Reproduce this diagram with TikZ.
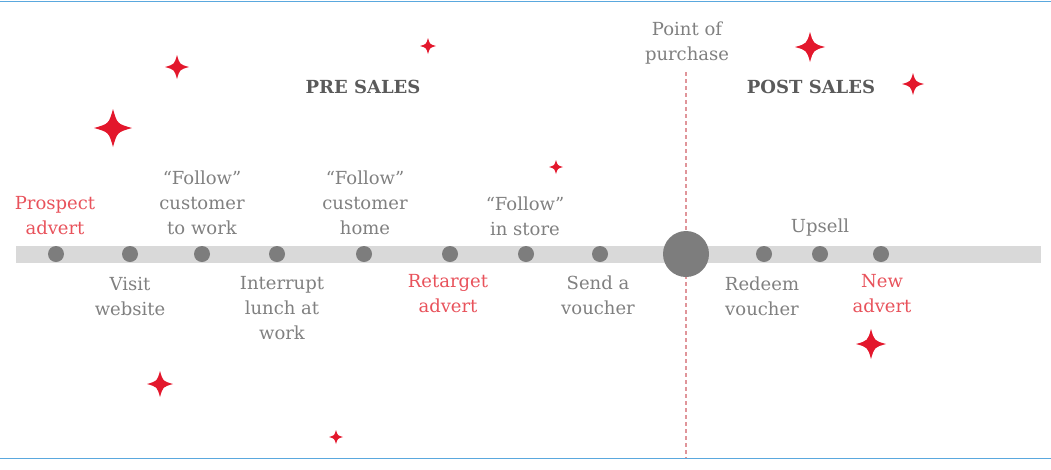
\documentclass[tikz,border=0pt]{standalone}
\usepackage{fontspec}
\setmainfont{DejaVu Serif}
\usetikzlibrary{positioning}
\definecolor{txtgray}{HTML}{808080}
\definecolor{headgray}{HTML}{5A5A5A}
\definecolor{advred}{HTML}{E8525B}
\definecolor{starred}{HTML}{E3172C}
\definecolor{dotgray}{HTML}{7D7D7D}
\definecolor{bargray}{HTML}{D9D9D9}
\definecolor{linepink}{HTML}{E0959A}
\definecolor{frameblue}{HTML}{5AA8DE}
\begin{document}
\begin{tikzpicture}[x=1pt,y=-1pt,
    dot/.style={circle,fill=dotgray,inner sep=0pt,minimum size=16pt},
    big dot/.style={circle,fill=dotgray,inner sep=0pt,minimum size=46pt},
    label node/.style={align=center,text=txtgray,inner sep=0pt,font=\fontsize{18}{25}\selectfont},
    red label/.style={label node,text=advred},
    head node/.style={inner sep=0pt,text=headgray,font=\fontsize{18}{25}\selectfont\bfseries},
    bar/.style={draw=bargray,line width=17pt},
    purchase line/.style={draw=linepink,line width=1.8pt,dash pattern=on 4pt off 3pt},
    frame line/.style={draw=frameblue,line width=1.5pt},
    sparkle/.style={fill=starred}]
    \useasboundingbox (0,0) rectangle (1051,469);

    % frame and timeline
    \coordinate (frameTL) at (0,1.5);
    \coordinate (frameTR) at (1051,1.5);
    \coordinate (frameBL) at (0,458.5);
    \coordinate (frameBR) at (1051,458.5);
    \coordinate (barL) at (16,254);
    \coordinate (barR) at (1041,254);
    \coordinate (popT) at (686,72);
    \coordinate (popB) at (686,458);

    \draw[frame line] (frameTL) -- (frameTR);
    \draw[frame line] (frameBL) -- (frameBR);
    \draw[bar] (barL) -- (barR);
    \draw[purchase line] (popT) -- (popB);

    \node[dot] at (56, 254) (prospect) {};
    \node[dot] at (130, 254) (website) {};
    \node[dot] at (202, 254) (work) {};
    \node[dot] at (277, 254) (lunch) {};
    \node[dot] at (364, 254) (home) {};
    \node[dot] at (450, 254) (retarget) {};
    \node[dot] at (526, 254) (store) {};
    \node[dot] at (600, 254) (voucher) {};
    \node[big dot] at (686, 254) (purchase) {};
    \node[dot] at (764, 254) (redeem) {};
    \node[dot] at (820, 254) (upsell) {};
    \node[dot] at (881, 254) (newadvert) {};

    % labels
    \node[red label] at (55, 216) (tprospect) {Prospect\\advert};
    \node[label node] at (130, 296) (twebsite) {Visit\\website};
    \node[label node] at (202, 203) (twork) {“Follow”\\customer\\to work};
    \node[label node] at (282, 308) (tlunch) {Interrupt\\lunch at\\work};
    \node[label node] at (365, 203) (thome) {“Follow”\\customer\\home};
    \node[red label] at (448, 294) (tretarget) {Retarget\\advert};
    \node[label node] at (525, 216) (tstore) {“Follow”\\in store};
    \node[label node] at (598, 295) (tvoucher) {Send a\\voucher};
    \node[label node] at (687, 43) (tpurchase) {Point of\\purchase};
    \node[label node] at (762, 296) (tredeem) {Redeem\\voucher};
    \node[label node] at (820, 228) (tupsell) {Upsell};
    \node[red label] at (882, 294) (tnewadvert) {New\\advert};
    \node[head node] at (363, 87) (pre) {PRE SALES};
    \node[head node] at (811, 87) (post) {POST SALES};

    % sparkles
    \foreach \x/\y/\r in {177/67/12, 113/128/19, 428/46/8, 556/167/7, 810/47/15,
                          913/84/11, 160/384/13, 336/437/7, 871/344/15}
        \fill[sparkle] ({\x},{\y-\r}) .. controls ({\x+0.22*\r},{\y-0.22*\r}) .. ({\x+\r},{\y})
            .. controls ({\x+0.22*\r},{\y+0.22*\r}) .. ({\x},{\y+\r})
            .. controls ({\x-0.22*\r},{\y+0.22*\r}) .. ({\x-\r},{\y})
            .. controls ({\x-0.22*\r},{\y-0.22*\r}) .. cycle;
\end{tikzpicture}
\end{document}
